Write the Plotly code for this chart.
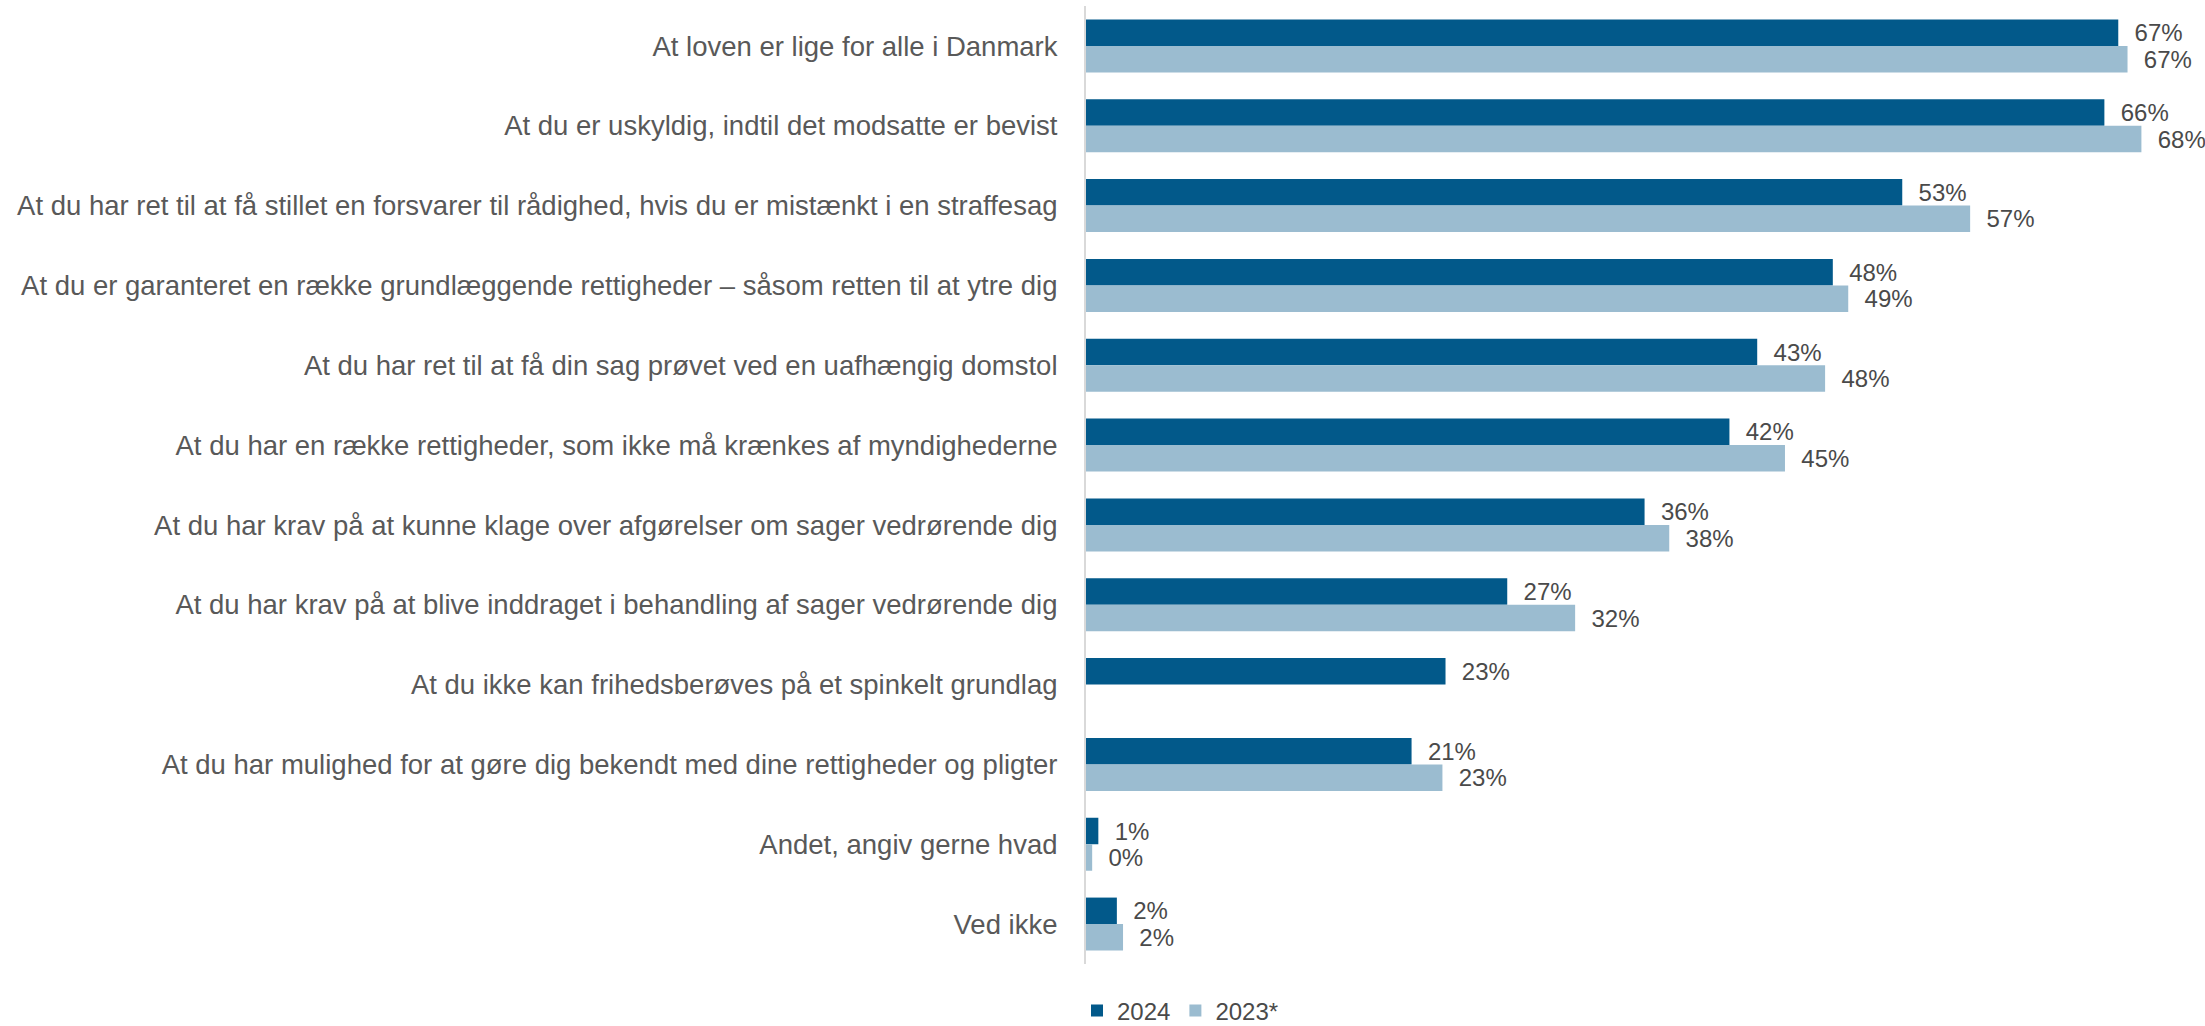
import plotly.graph_objects as go

categories = [
    "At loven er lige for alle i Danmark",
    "At du er uskyldig, indtil det modsatte er bevist",
    "At du har ret til at få stillet en forsvarer til rådighed, hvis du er mistænkt i en straffesag",
    "At du er garanteret en række grundlæggende rettigheder – såsom retten til at ytre dig",
    "At du har ret til at få din sag prøvet ved en uafhængig domstol",
    "At du har en række rettigheder, som ikke må krænkes af myndighederne",
    "At du har krav på at kunne klage over afgørelser om sager vedrørende dig",
    "At du har krav på at blive inddraget i behandling af sager vedrørende dig",
    "At du ikke kan frihedsberøves på et spinkelt grundlag",
    "At du har mulighed for at gøre dig bekendt med dine rettigheder og pligter",
    "Andet, angiv gerne hvad",
    "Ved ikke",
]

values_2024 = [66.9, 66.0, 52.9, 48.4, 43.5, 41.7, 36.2, 27.3, 23.3, 21.1, 0.8, 2.0]
values_2023 = [67.5, 68.4, 57.3, 49.4, 47.9, 45.3, 37.8, 31.7, None, 23.1, 0.4, 2.4]
labels_2024 = ["67%", "66%", "53%", "48%", "43%", "42%", "36%", "27%", "23%", "21%", "1%", "2%"]
labels_2023 = ["67%", "68%", "57%", "49%", "48%", "45%", "38%", "32%", "", "23%", "0%", "2%"]

series_names = ["2024", "2023*"]

DARK = "#02598A"
LIGHT = "#9BBCD0"
TEXT = "#4A4A4A"
FONT = "Liberation Sans, Arial, sans-serif"
PAD = "\u00a0\u00a0"

fig = go.Figure()
for name, vals, labs, col in [
    (series_names[0], values_2024, labels_2024, DARK),
    (series_names[1], values_2023, labels_2023, LIGHT),
]:
    fig.add_trace(go.Bar(
        name=name,
        y=categories,
        x=vals,
        orientation="h",
        marker=dict(color=col, line=dict(width=0)),
        text=[PAD + t if t else "" for t in labs],
        textposition="outside",
        constraintext="none",
        cliponaxis=False,
        textfont=dict(family=FONT, size=24, color=TEXT),
        hoverinfo="skip",
    ))

W, H = 2205, 1026
L, R, T, B = 1086, 5, 6, 62
plot_w = W - L - R
px_per_pct = 15.43

fig.update_layout(
    width=W, height=H,
    margin=dict(l=L, r=R, t=T, b=B, autoexpand=False),
    barmode="group",
    bargap=0.336,
    bargroupgap=0,
    plot_bgcolor="white",
    paper_bgcolor="white",
    font=dict(family=FONT, size=24, color=TEXT),
    showlegend=True,
    legend=dict(
        orientation="h",
        xref="paper", x=-9 / plot_w, xanchor="left",
        yref="container", y=1 - 1011 / H, yanchor="middle",
        font=dict(family=FONT, size=24, color=TEXT),
        itemwidth=30,
        tracegroupgap=0,
        bgcolor="rgba(0,0,0,0)",
    ),
    xaxis=dict(
        range=[0, plot_w / px_per_pct],
        automargin=False,
        showgrid=False, zeroline=False, showticklabels=False,
        showline=False, ticks="",
    ),
    yaxis=dict(
        autorange="reversed",
        automargin=False,
        showgrid=False, zeroline=False,
        showline=True, linecolor="#D9D9D9", linewidth=2,
        ticks="outside", ticklen=21, tickcolor="rgba(0,0,0,0)",
        tickfont=dict(family=FONT, size=27.5, color="#595959"),
    ),
)

fig.write_html(
    "out.html",
    config={"displayModeBar": False},
    post_script="document.body.style.margin='0';document.body.style.overflow='hidden';",
)
